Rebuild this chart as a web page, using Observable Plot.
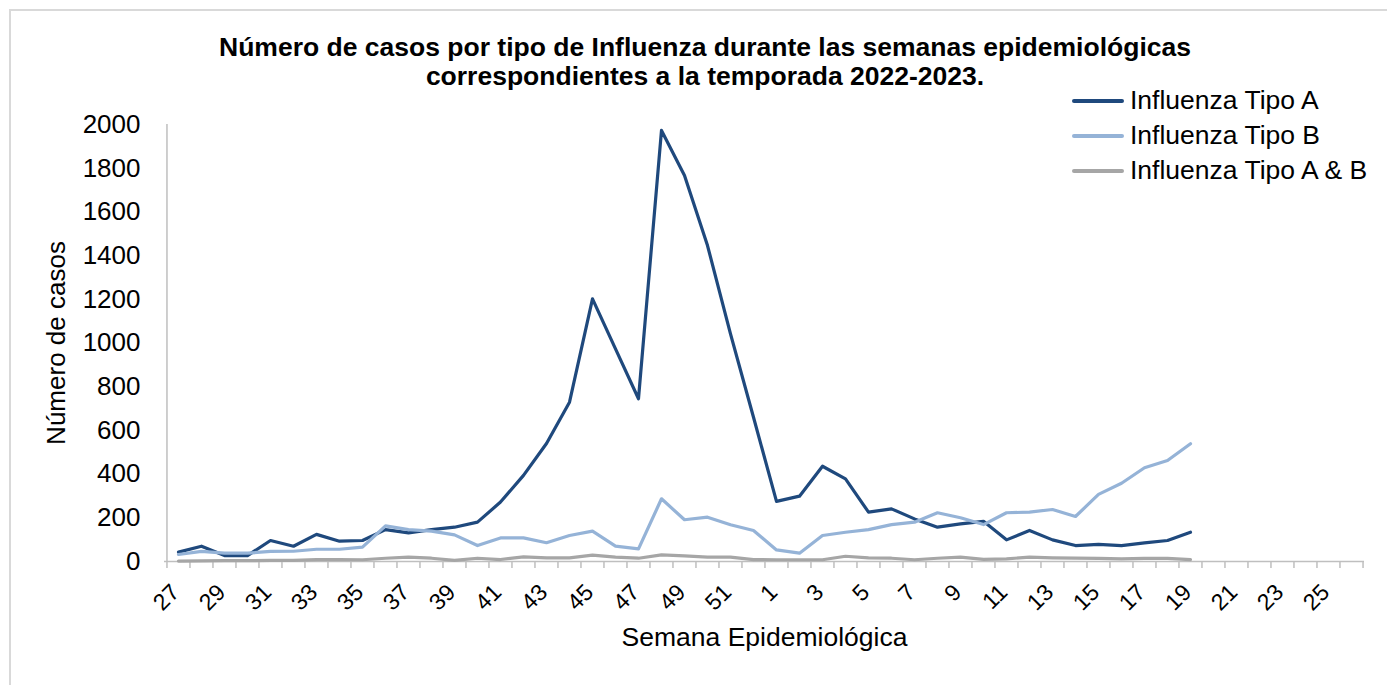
<!DOCTYPE html>
<html>
<head>
<meta charset="utf-8">
<script src="https://cdn.jsdelivr.net/npm/d3@7"></script>
<script src="https://cdn.jsdelivr.net/npm/@observablehq/plot@0.6"></script>
<style>
  html, body { margin: 0; padding: 0; background: #fff; overflow: hidden; }
  #wrap { position: relative; width: 1387px; height: 685px; overflow: hidden; font-family: "Liberation Sans", Arial, sans-serif; }
  #frame { position: absolute; left: 9px; top: 9px; width: 1400px; height: 700px; border: 2px solid #d9d9d9; box-sizing: border-box; }
  #title { position: absolute; left: 0; width: 1410px; top: 33px; text-align: center; font-weight: bold; font-size: 26.5px; line-height: 29px; color: #000; }
  #legend { position: absolute; left: 1072px; top: 83px; font-size: 26.5px; color: #000; }
  .row { display: flex; align-items: center; height: 35px; }
  .sw { width: 52px; height: 4px; border-radius: 2px; margin-right: 6px; }
  #chart { position: absolute; left: 0; top: 0; }
</style>
</head>
<body>
<div id="wrap">
  <div id="frame"></div>
  <div id="chart"></div>
  <div id="title">Número de casos por tipo de Influenza durante las semanas epidemiológicas<br>correspondientes a la temporada 2022-2023.</div>
  <div id="legend"></div>
</div>
<script>
// Weeks of the season (27..52, then 1..26)
const weeks = ["27","28","29","30","31","32","33","34","35","36","37","38","39","40","41","42","43","44","45","46","47","48","49","50","51","52",
               "1","2","3","4","5","6","7","8","9","10","11","12","13","14","15","16","17","18","19","20","21","22","23","24","25","26"];
const tickLabels = ["27","29","31","33","35","37","39","41","43","45","47","49","51","1","3","5","7","9","11","13","15","17","19","21","23","25"];
const yTicks = [0,200,400,600,800,1000,1200,1400,1600,1800,2000];

// Values for weeks 27..52 and 1..19
const tipoA = [43,70,27,27,96,70,124,93,96,146,131,146,157,180,272,394,540,729,1202,973,745,1973,1767,1446,1042,660,
               275,299,436,378,226,241,195,157,172,184,99,142,99,73,78,73,85,96,134];
const tipoB = [32,46,38,38,46,47,56,56,66,163,146,139,122,73,108,108,86,119,139,70,58,287,191,203,168,142,
               53,38,119,134,146,169,180,223,200,169,223,226,238,206,307,358,429,462,539];
const tipoAB = [2,3,4,4,5,5,9,9,8,15,20,15,5,15,9,21,17,17,29,20,15,30,26,20,20,9,
                8,8,8,24,17,15,8,15,20,10,12,20,17,15,14,12,14,14,9];

const seriesNames = ["Influenza Tipo A","Influenza Tipo B","Influenza Tipo A & B"];
const seriesColors = ["#1f497d","#95b3d7","#a6a6a6"];
const seriesValues = [tipoA, tipoB, tipoAB];

const data = [];
seriesValues.forEach((vals, s) => vals.forEach((v, i) => data.push({week: weeks[i], value: v, serie: seriesNames[s]})));

const W = 1387, H = 685, mL = 164, mR = 23, mT = 124, mB = 124;
const step = (W - mL - mR) / weeks.length;
const font = "Liberation Sans, Arial, sans-serif";

const chart = Plot.plot({
  width: W, height: H,
  marginLeft: mL, marginRight: mR, marginTop: mT, marginBottom: mB,
  style: {fontFamily: font, background: "transparent", overflow: "visible"},
  x: {type: "point", domain: weeks, padding: 0.5},
  y: {domain: [0, 2000]},
  color: {domain: seriesNames, range: seriesColors},
  marks: [
    Plot.axisY({ticks: yTicks, tickFormat: d => String(d), tickSize: 0, tickPadding: 24, fontSize: 26, fill: "#000",
      label: "Número de casos", labelAnchor: "center", labelArrow: "none", labelOffset: 118}),
    Plot.ruleX([0], {x: () => weeks[0], y1: 0, y2: 2000, dx: -step/2, stroke: "#bfbfbf", strokeWidth: 1.5}),
    Plot.ruleY([0], {stroke: "#bfbfbf", strokeWidth: 1.5}),
    Plot.axisX(weeks, {tickSize: 7, tickFormat: () => "", dx: -step/2, stroke: "#bfbfbf", strokeWidth: 1.5, label: null}),
    Plot.axisX([weeks[weeks.length - 1]], {tickSize: 7, tickFormat: () => "", dx: step/2, stroke: "#bfbfbf", strokeWidth: 1.5, label: null}),
    Plot.text(tickLabels, {x: d => d, y: () => 0, text: d => d, rotate: -45, textAnchor: "end", lineAnchor: "middle",
      dx: -3, dy: 27, fontSize: 23, fill: "#000"}),
    Plot.text(["Semana Epidemiológica"], {frameAnchor: "bottom", dy: 84, fontSize: 26.5, fill: "#000"}),
    Plot.line(data, {x: "week", y: "value", z: "serie", stroke: "serie", strokeWidth: 3.2, strokeLinejoin: "round", strokeLinecap: "round"})
  ]
});
document.getElementById("chart").appendChild(chart);

const legend = document.getElementById("legend");
seriesNames.forEach((n, i) => {
  const row = document.createElement("div");
  row.className = "row";
  const sw = document.createElement("div");
  sw.className = "sw";
  sw.style.background = seriesColors[i];
  const t = document.createElement("span");
  t.textContent = n;
  row.appendChild(sw); row.appendChild(t);
  legend.appendChild(row);
});
</script>
</body>
</html>
